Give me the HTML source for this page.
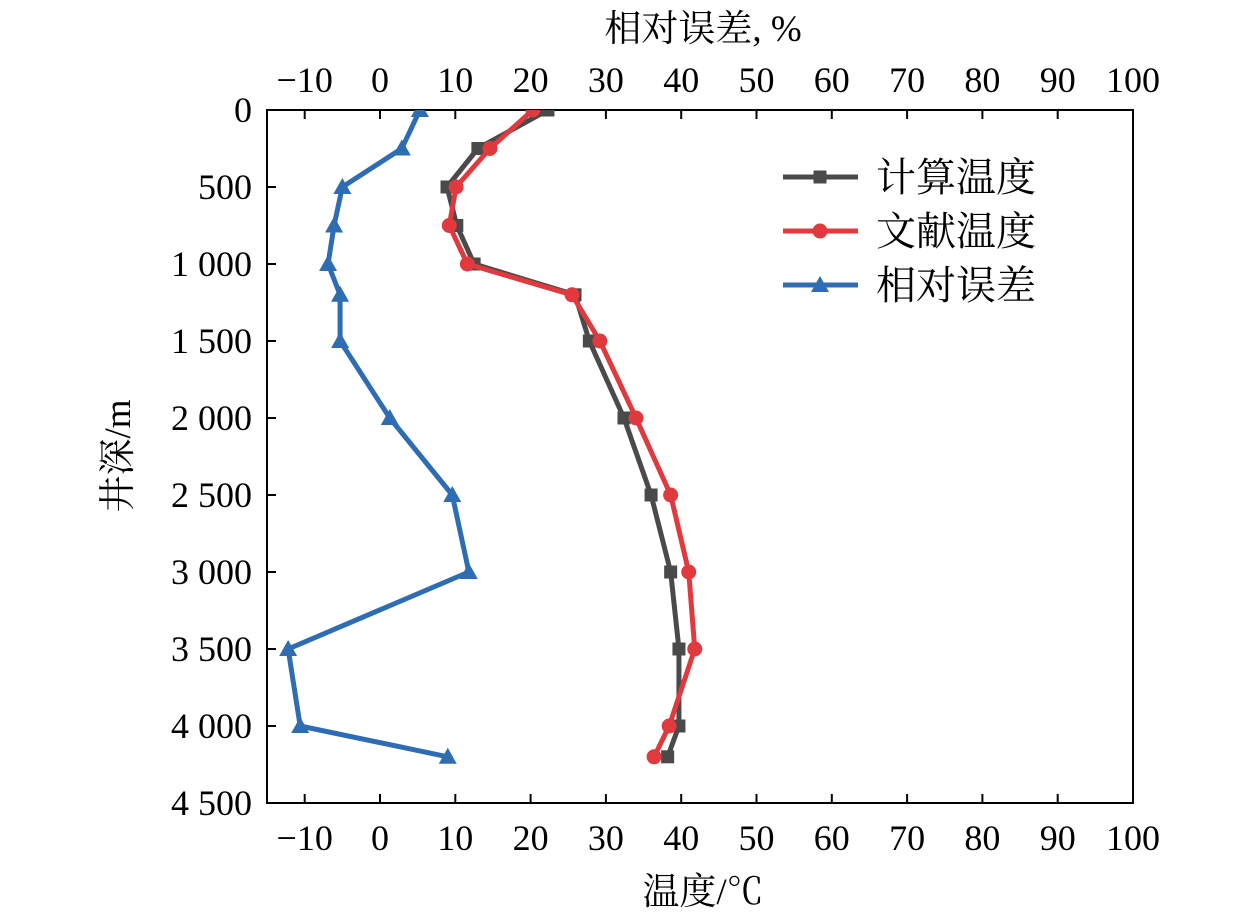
<!DOCTYPE html>
<html><head><meta charset="utf-8"><style>
html,body{margin:0;padding:0;background:#fff;}
svg{display:block;font-family:"Liberation Serif","Noto Serif CJK SC",serif;}
</style></head><body>
<svg id="chart" width="1259" height="921" viewBox="0 0 1259 921" xmlns="http://www.w3.org/2000/svg"></svg>
<script>
const depths = [0,250,500,750,1000,1200,1500,2000,2500,3000,3500,4000,4200];
const calcTemp = [22.3,13.0,8.9,10.2,12.5,25.9,27.8,32.4,36.0,38.6,39.7,39.7,38.2];
const litTemp = [20.3,14.6,10.1,9.2,11.6,25.5,29.2,34.0,38.6,41.0,41.8,38.4,36.4];
const relErr = [5.3,2.9,-5.0,-6.1,-6.9,-5.3,-5.3,1.3,9.6,11.8,-12.2,-10.6,9.0];
const xTicks = [-10,0,10,20,30,40,50,60,70,80,90,100];
const yTicks = [0,500,1000,1500,2000,2500,3000,3500,4000,4500];
const yTickLabels = ["0","500","1 000","1 500","2 000","2 500","3 000","3 500","4 000","4 500"];

const NS="http://www.w3.org/2000/svg";
const svg=document.getElementById('chart');
const L=267,R=1133,T=110,B=803;
const xs=v=>380+v*7.53;
const ys=d=>T+(d/4500)*(B-T);
function mk(tag,attrs,parent){const e=document.createElementNS(NS,tag);for(const k in attrs)e.setAttribute(k,attrs[k]);(parent||svg).appendChild(e);return e;}

const axes=mk('g',{});


mk('rect',{x:L,y:T,width:R-L,height:B-T,fill:'none',stroke:'#000','stroke-width':2},axes);
xTicks.forEach(v=>{
  const x=xs(v);
  mk('line',{x1:x,y1:T,x2:x,y2:T+9,stroke:'#000','stroke-width':2},axes);
  mk('line',{x1:x,y1:B,x2:x,y2:B-9,stroke:'#000','stroke-width':2},axes);
  const lab=(v<0?'\u2212':'')+Math.abs(v);
  const t1=mk('text',{x:x,y:92,'font-size':36,'text-anchor':'middle'},axes);t1.textContent=lab;
  
  
  const t2=mk('text',{x:x,y:850,'font-size':36,'text-anchor':'middle'},axes);t2.textContent=lab;
  
  
});
yTicks.forEach((d,i)=>{
  const y=ys(d);
  mk('line',{x1:L,y1:y,x2:L+9,y2:y,stroke:'#000','stroke-width':2},axes);
  const t=mk('text',{x:252,y:y+12,'font-size':36,'text-anchor':'end'},axes);t.textContent=yTickLabels[i];
  
  
});
let t=mk('text',{x:703,y:41,'font-size':37,'text-anchor':'middle'});t.textContent='相对误差, %';


t=mk('text',{x:703,y:904,'font-size':37,'text-anchor':'middle'});t.textContent='温度/℃';


t=mk('text',{x:0,y:0,'font-size':37,'text-anchor':'middle',transform:'translate(130,456) rotate(-90)'});t.textContent='井深/m';



const clip=mk('clipPath',{id:'pc'});mk('rect',{x:L,y:T,width:R-L,height:B-T},clip);

function marker(g,type,x,y,c){
  if(type==='sq')return mk('rect',{x:x-6.5,y:y-6.5,width:13,height:13,fill:c},g);
  if(type==='ci')return mk('circle',{cx:x,cy:y,r:7.5,fill:c},g);
  return mk('polygon',{points:`${x},${y-9} ${x-9},${y+7} ${x+9},${y+7}`,fill:c},g);
}
function series(vals,color,type,name){
  const g=mk('g',{'clip-path':'url(#pc)'});
  
  
  mk('polyline',{points:vals.map((v,i)=>xs(v)+','+ys(depths[i])).join(' '),fill:'none',stroke:color,'stroke-width':5,'stroke-linejoin':'round'},g);
  vals.forEach((v,i)=>{const m=marker(g,type,xs(v),ys(depths[i]),color);
    
    });
}
series(relErr,'#2e6db4','tr','relative-error-series');
series(calcTemp,'#4a4a4a','sq','calculated-temp-series');
series(litTemp,'#e0393e','ci','literature-temp-series');

const leg=[['计算温度','#4a4a4a','sq',177],['文献温度','#e0393e','ci',231],['相对误差','#2e6db4','tr',285]];
leg.forEach(([txt,c,ty,y])=>{
  const g=mk('g',{});
  
  
  mk('line',{x1:783,y1:y,x2:858,y2:y,stroke:c,'stroke-width':5},g);
  marker(g,ty,820,y,c);
  const tt=mk('text',{x:876,y:y+14,'font-size':40},g);tt.textContent=txt;
});
</script>
</body></html>
